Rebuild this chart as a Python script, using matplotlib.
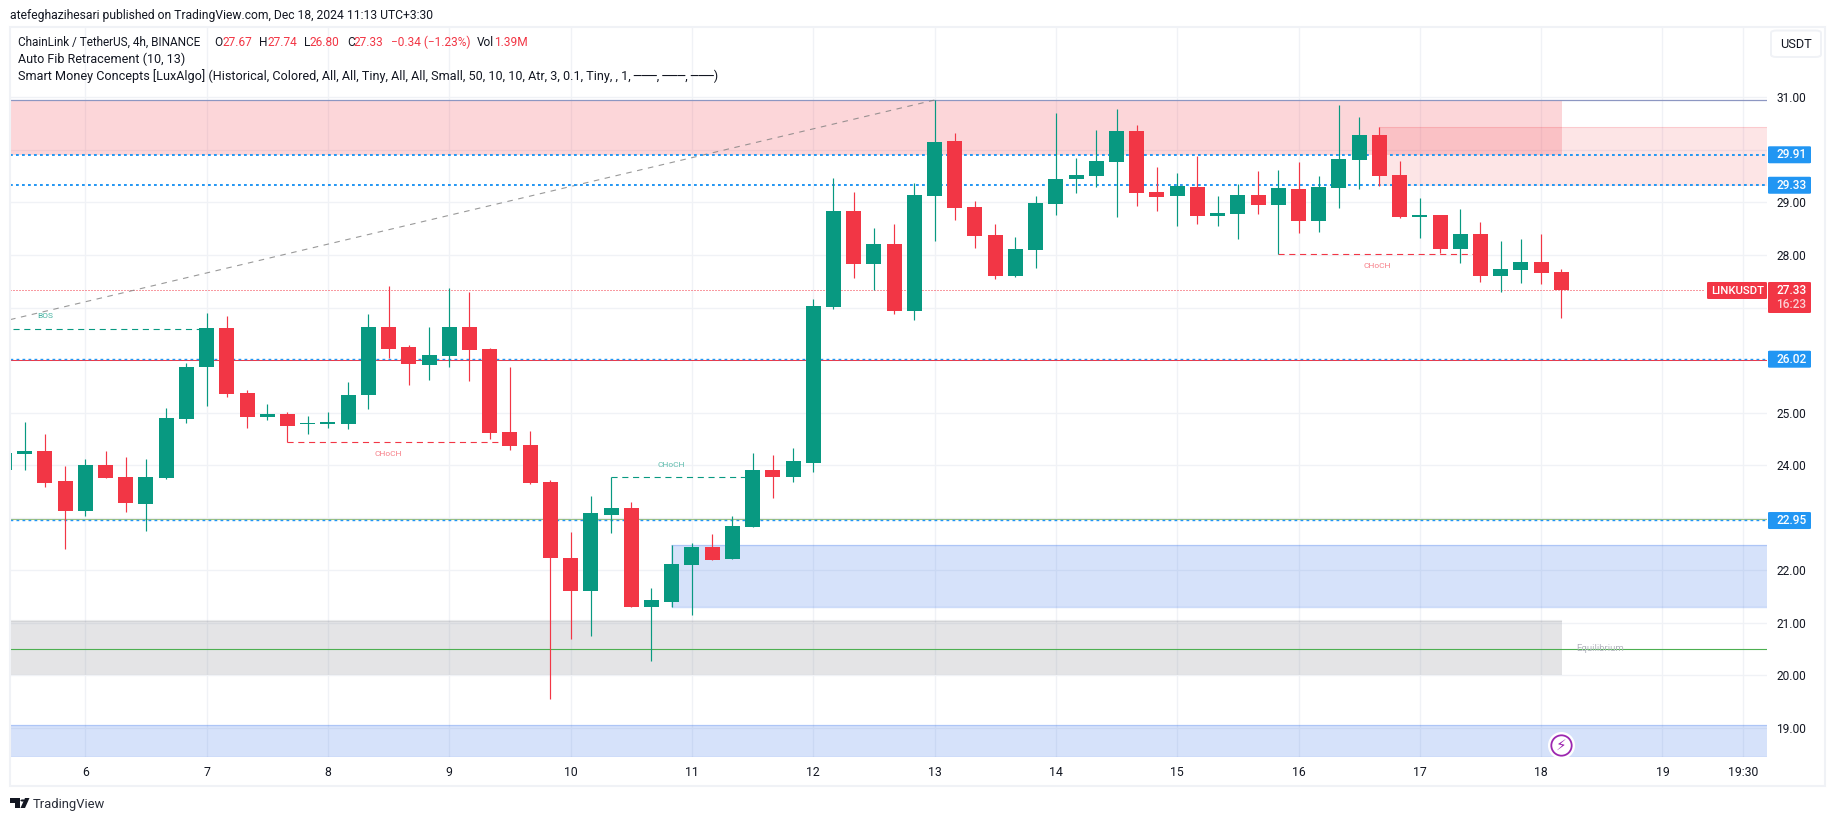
import matplotlib
matplotlib.use("Agg")
import matplotlib.pyplot as plt
from matplotlib.patches import Rectangle, FancyBboxPatch, Polygon, Circle

# chainlink / usdt 4h candles
# first candle is cut off by the left edge of the panel
opens = [23.90, 24.22, 24.27, 23.70, 23.13, 24.01, 23.78, 23.26, 23.76, 24.88,
         25.87, 26.61, 25.38, 24.92, 24.98, 24.79, 24.79, 24.79, 25.34, 26.63,
         26.25, 25.91, 26.08, 26.63, 26.21, 24.63, 24.39, 23.68, 22.24, 21.61,
         23.05, 23.19, 21.30, 21.40, 22.10, 22.45, 22.22, 22.83, 23.91, 23.78,
         24.04, 27.01, 28.84, 27.83, 28.21, 26.94, 29.13, 30.17, 28.92, 28.38,
         27.60, 28.10, 28.97, 29.45, 29.51, 29.77, 30.36, 29.20, 29.13, 29.30,
         28.75, 28.78, 29.15, 28.96, 29.26, 28.65, 29.28, 29.81, 30.29, 29.53,
         28.73, 28.76, 28.12, 28.40, 27.60, 27.72, 27.87, 27.67]
highs = [24.23, 24.82, 24.60, 23.99, 24.12, 24.27, 24.16, 24.12, 25.09, 25.95,
         26.90, 26.84, 25.43, 25.17, 25.01, 24.94, 25.01, 25.59, 26.88, 27.41,
         26.29, 26.63, 27.37, 27.30, 26.23, 25.87, 24.65, 23.72, 22.73, 23.42,
         23.77, 23.30, 21.67, 22.48, 22.52, 22.69, 23.04, 24.23, 24.20, 24.33,
         27.17, 29.47, 29.20, 28.52, 28.59, 29.37, 30.95, 30.32, 29.03, 28.59,
         28.35, 29.13, 30.71, 29.85, 30.38, 30.78, 30.48, 29.68, 29.56, 29.89,
         29.13, 29.35, 29.60, 29.62, 29.77, 29.51, 30.86, 30.63, 30.44, 29.79,
         29.09, 28.76, 28.88, 28.63, 28.27, 28.31, 28.40, 27.74]
lows = [23.90, 23.91, 23.59, 22.41, 23.04, 23.76, 23.11, 22.75, 23.74, 24.81,
        25.13, 25.30, 24.71, 24.86, 24.44, 24.60, 24.71, 24.69, 25.07, 26.04,
        25.53, 25.62, 25.87, 25.61, 24.50, 24.29, 23.65, 19.55, 20.70, 20.75,
        22.71, 21.30, 20.28, 21.30, 21.15, 22.20, 22.22, 22.83, 23.38, 23.68,
        23.87, 26.98, 27.57, 27.34, 26.88, 26.77, 28.27, 28.67, 28.14, 27.55,
        27.58, 27.76, 28.76, 29.18, 29.30, 28.73, 28.94, 28.84, 28.56, 28.59,
        28.56, 28.31, 28.78, 28.02, 28.42, 28.44, 28.90, 29.26, 29.32, 28.71,
        28.33, 28.04, 27.85, 27.49, 27.30, 27.47, 27.45, 26.80]
closes = [24.23, 24.27, 23.66, 23.13, 24.01, 23.76, 23.28, 23.78, 24.90, 25.87,
          26.61, 25.36, 24.92, 24.98, 24.75, 24.81, 24.82, 25.34, 26.63, 26.21,
          25.93, 26.10, 26.63, 26.19, 24.62, 24.37, 23.66, 22.24, 21.61, 23.09,
          23.19, 21.30, 21.44, 22.12, 22.45, 22.20, 22.85, 23.91, 23.78, 24.08,
          27.03, 28.84, 27.83, 28.21, 26.94, 29.15, 30.15, 28.90, 28.36, 27.60,
          28.12, 28.99, 29.45, 29.53, 29.79, 30.36, 29.18, 29.11, 29.32, 28.75,
          28.80, 29.15, 28.96, 29.28, 28.65, 29.30, 29.83, 30.29, 29.51, 28.73,
          28.76, 28.12, 28.40, 27.60, 27.74, 27.87, 27.66, 27.33]
first_bar = -4  # bar index 0 is 00:00 on the 6th

day_ticks = [0, 6, 12, 18, 24, 30, 36, 42, 48, 54, 60, 66, 72, 78, 82]
day_labels = ["6", "7", "8", "9", "10", "11", "12", "13", "14", "15", "16", "17", "18", "19", "19:30"]
price_ticks = [19, 20, 21, 22, 23, 24, 25, 26, 27, 28, 29, 30, 31]
price_labels = ["19.00", "20.00", "21.00", "22.00", "", "24.00", "25.00", "", "", "28.00", "29.00", "", "31.00"]

# price levels, top/bottom of the zones
swing_high = 30.95
premium_zone = (29.91, 30.95)
supply_zone = (29.32, 30.43)
equilibrium_zone = (20.0, 21.04)
equilibrium = 20.5
demand_zone = (21.31, 22.48)
discount_zone = (18.44, 19.05)
dotted_levels = [29.91, 29.33, 26.02, 22.95]
strong_low_level = 26.01
strong_green_level = 22.97
last_price = 27.33
fib_line = ((-3.72, 26.77), (42, 30.95))

# bar index start/end and price of the structure lines
bos = (-3.6, 6, 26.59)
choch_lines = [(10, 21, 24.44, "#f23645", 15.0),
               (26, 33, 23.77, "#089981", 29.0),
               (59, 69, 28.02, "#f23645", 63.9)]
choch_label_prices = [24.21, 24.01, 27.80]

GREEN = "#089981"
RED = "#f23645"
BLUE = "#2196f3"
ZONE_BLUE = "#1f62e8"
GRID = "#f0f2f6"
TEXT = "#131722"
W, H = 1835, 821


def px(x, y):
    # figure fraction from reference pixels
    return x / W, 1 - y / H


plt.rcParams["font.family"] = ["Roboto", "DejaVu Sans"]
fig = plt.figure(figsize=(W / 100, H / 100), dpi=100, facecolor="white")

ax = fig.add_axes([10 / W, 1 - 757.3 / H, 1757 / W, 730.3 / H])
ax.set_xlim(-3.724, 83.17)
ax.set_ylim(18.44, 32.34)
for s in ax.spines.values():
    s.set_visible(False)
ax.set_xticks(day_ticks)
ax.set_xticklabels(day_labels, fontsize=8.8, color=TEXT)
ax.set_yticks(price_ticks)
ax.set_yticklabels(price_labels, fontsize=8.6, color=TEXT)
ax.yaxis.tick_right()
ax.tick_params(axis="both", length=0)
ax.tick_params(axis="x", pad=6.5)
ax.tick_params(axis="y", pad=6.5)
ax.grid(True, color=GRID, lw=0.95, zorder=0)
ax.set_axisbelow(True)

# zones
ax.axhspan(premium_zone[0], premium_zone[1], xmax=(1562 - 10) / 1757, color=RED, alpha=0.2, lw=0, zorder=1)
ax.axhspan(supply_zone[0], supply_zone[1], xmin=(1379 - 10) / 1757, facecolor=RED, alpha=0.13, lw=0, zorder=1)
ax.plot([64.0, 83.17], [supply_zone[1]] * 2, color=RED, alpha=0.15, lw=0.8, zorder=1)
ax.axhspan(equilibrium_zone[0], equilibrium_zone[1], xmax=(1562 - 10) / 1757, color="#787b86", alpha=0.2, lw=0, zorder=1)
ax.plot([-3.72, 73.0], [equilibrium_zone[1]] * 2, color="#787b86", alpha=0.15, lw=1.5, zorder=1)
ax.axhspan(demand_zone[0], demand_zone[1], xmin=(671 - 10) / 1757, facecolor=ZONE_BLUE, alpha=0.18, lw=0, zorder=1)
ax.axhspan(discount_zone[0], discount_zone[1], facecolor=ZONE_BLUE, alpha=0.18, lw=0, zorder=1)
for y, x0 in [(demand_zone[0], 29), (demand_zone[1], 29), (discount_zone[1], -3.72), (discount_zone[0] + 0.01, -3.72)]:
    ax.plot([x0, 83.17], [y, y], color=ZONE_BLUE, alpha=0.22, lw=1, zorder=1)

# levels
ax.axhline(swing_high, color="#8d97c2", lw=0.9, zorder=2)
ax.axhline(strong_low_level, color=RED, lw=0.72, zorder=2)
ax.axhline(strong_green_level, color="#9ec27d", lw=0.8, zorder=2)
ax.axhline(equilibrium, color="#4caf50", lw=0.8, zorder=2)
for lvl, w in zip(dotted_levels, [1.4, 1.4, 1.0, 1.0]):
    ax.axhline(lvl, color=BLUE, lw=w, ls=(0, (2.0 / w, 2.32 / w)), zorder=2.5)
ax.plot([-3.72, 80], [last_price, last_price], color=RED, lw=0.72, ls=(0, (1, 2)), zorder=2)

ax.plot([fib_line[0][0], fib_line[1][0]], [fib_line[0][1], fib_line[1][1]], color="#808080",
        alpha=0.8, lw=0.8, ls=(0, (5, 5)), zorder=2)

# structure breaks
ax.plot(bos[:2], [bos[2], bos[2]], color=GREEN, lw=0.8, ls=(0, (5.5, 4.2)), zorder=2)
ax.text(-2, 26.84, "BOS", color=GREEN, alpha=0.75, fontsize=6, ha="center", va="center", zorder=2)
for (x0, x1, y, c, tx), ty in zip(choch_lines, choch_label_prices):
    ax.plot([x0, x1], [y, y], color=c, lw=0.8, ls=(0, (5.5, 4.2)), zorder=2)
    ax.text(tx, ty, "CHoCH", color=c, alpha=0.65, fontsize=6, ha="center", va="center", zorder=2)
ax.text(74.9, 20.52, "Equilibrium", color="#b2b5be", fontsize=6.8, ha="center", va="center", zorder=2)

# candles
bars = list(range(first_bar, first_bar + len(opens)))
colors = [GREEN if c >= o else RED for o, c in zip(opens, closes)]
ax.vlines(bars, lows, highs, colors=colors, lw=0.85, zorder=3)
ax.bar(bars, [c - o for o, c in zip(opens, closes)], bottom=opens, width=15 / 20.22,
       color=colors, lw=0, zorder=4)

# lightning marker on the last bar
ax.scatter([73], [18.67], s=340, facecolor="white", edgecolor="white", zorder=5)
ax.scatter([73], [18.67], s=215, facecolor="white", edgecolor="#9c27b0", lw=1.3, zorder=6)
ax.text(73, 18.66, "\u26a1", color="#9c27b0", fontsize=11, ha="center", va="center",
        family="DejaVu Sans", zorder=7)


# price axis tags, placed in reference pixels
def tag(x0, y0, x1, y1, color):
    fig.add_artist(FancyBboxPatch(px(x0, y1), (x1 - x0) / W, (y1 - y0) / H,
                                  boxstyle="round,pad=0,rounding_size=0.001", fc=color, ec="none",
                                  transform=fig.transFigure, zorder=10))


for lvl in dotted_levels:
    cy = 97.5 + (31 - lvl) * 52.55
    tag(1768, cy - 8.5, 1811, cy + 8.5, BLUE)
    fig.text(1776 / W, 1 - cy / H, f"{lvl:.2f}", color="white", fontsize=8.6, weight="medium",
             va="center", zorder=11)
tag(1768, 282, 1811, 313, RED)
tag(1707, 282, 1767, 299, RED)
fig.text(1776 / W, 1 - 290.7 / H, "27.33", color="white", fontsize=8.6, weight="medium", va="center", zorder=11)
fig.text(1776 / W, 1 - 304.7 / H, "16:23", color="#fbd0d4", fontsize=8.6, weight="medium", va="center", zorder=11)
fig.text(1737.5 / W, 1 - 290.7 / H, "LINKUSDT", color="white", fontsize=8.2, weight="medium", ha="center", va="center", zorder=11)

# panel frame
fig.add_artist(Rectangle(px(9.7, 785.5), (1825.3 - 9.7) / W, (785.5 - 26.7) / H, fill=False, ec=GRID, lw=1.5,
                         transform=fig.transFigure, zorder=9))

# header and legend
fig.text(10 / W, 1 - 15 / H, "atefeghazihesari published on TradingView.com, Dec 18, 2024 11:13 UTC+3:30",
         color=TEXT, fontsize=8.7, va="center")
legend_y = 42
fig.text(18 / W, 1 - legend_y / H, "ChainLink / TetherUS, 4h, BINANCE", color=TEXT, fontsize=8.5, va="center")
for x, s, c in [(214, "O", TEXT), (222, "27.67", RED), (259, "H", TEXT), (267, "27.74", RED),
                (304, "L", TEXT), (309, "26.80", RED), (347, "C", TEXT), (354, "27.33", RED),
                (391, "\u22120.34 (\u22121.23%)", RED), (477, "Vol", TEXT), (494, "1.39M", RED)]:
    fig.text(x / W, 1 - legend_y / H, s, color=c, fontsize=8.6, va="center")
fig.text(18 / W, 1 - 59 / H, "Auto Fib Retracement (10, 13)", color=TEXT, fontsize=9.0, va="center")
fig.text(18 / W, 1 - 76 / H, "Smart Money Concepts [LuxAlgo] (Historical, Colored, All, All, Tiny, All, All, Small, "
         "50, 10, 10, Atr, 3, 0.1, Tiny, , 1, \u2500\u2500\u2500, \u2500\u2500\u2500, \u2500\u2500\u2500)",
         color=TEXT, fontsize=9.05, va="center")

# currency button
fig.add_artist(FancyBboxPatch(px(1771, 57), 50 / W, 26.5 / H, boxstyle="round,pad=0,rounding_size=0.003",
                              fc="white", ec=GRID, lw=1.4, transform=fig.transFigure, zorder=10))
fig.text(1796 / W, 1 - 44 / H, "USDT", color=TEXT, fontsize=9.2, ha="center", va="center", zorder=11)

# tradingview logo and name
fig.add_artist(Polygon([px(10, 798), px(20, 798), px(20, 808), px(15, 808), px(15, 803), px(10, 803)],
                       closed=True, fc=TEXT, ec="none", transform=fig.transFigure))
fig.add_artist(Circle(px(22.8, 800.5), 2.4 / W, fc=TEXT, ec="none", transform=fig.transFigure))
fig.add_artist(Polygon([px(25, 798), px(29.5, 798), px(25, 808), px(20.5, 808)], closed=True, fc=TEXT, ec="none",
                       transform=fig.transFigure))
fig.text(33 / W, 1 - 804 / H, "TradingView", color="#2a2e39", fontsize=9.4, va="center")

fig.savefig("out.png", dpi=100, facecolor="white")
